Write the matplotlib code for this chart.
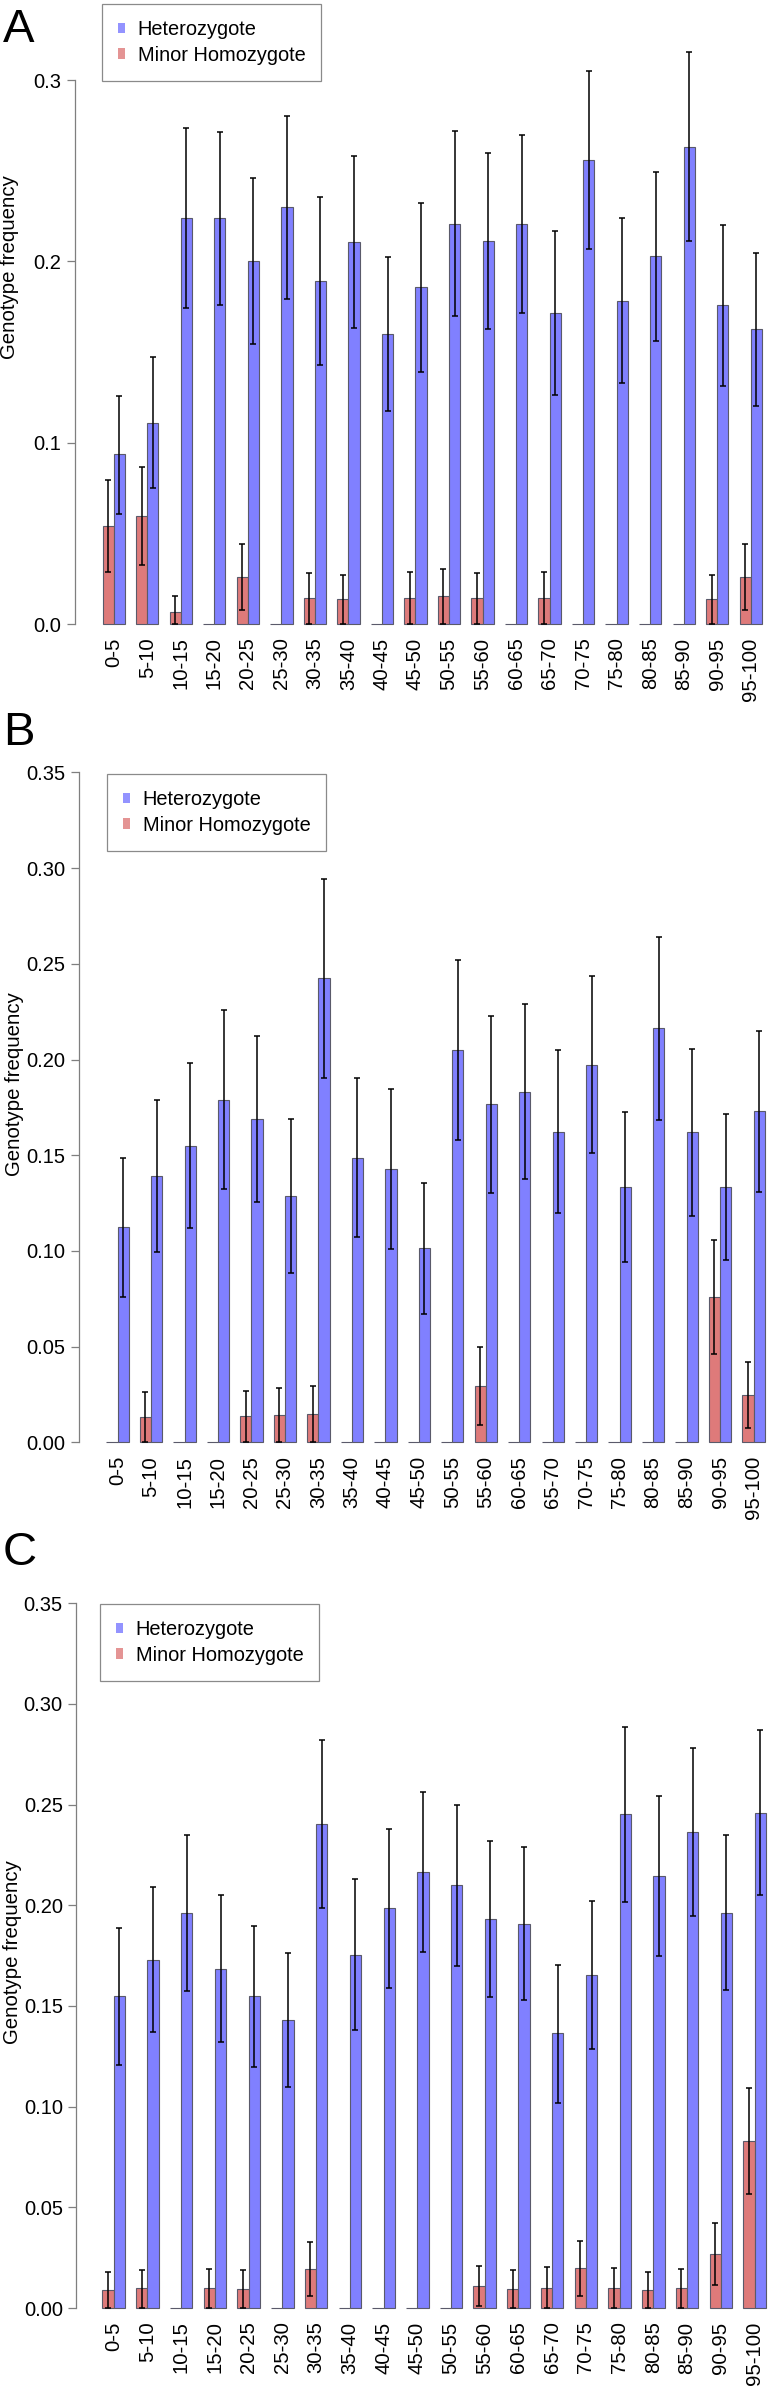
import numpy as np
import matplotlib
matplotlib.use('Agg')
import matplotlib.pyplot as plt
from matplotlib.patches import Patch

plt.rcParams['font.family'] = ['Liberation Sans', 'DejaVu Sans']

W, H = 769, 2387

cats = ['0-5', '5-10', '10-15', '15-20', '20-25', '25-30', '30-35', '35-40', '40-45', '45-50',
        '50-55', '55-60', '60-65', '65-70', '70-75', '75-80', '80-85', '85-90', '90-95', '95-100']

# panel A
A_het = [0.0936, 0.111, 0.2238, 0.2238, 0.2000, 0.2298, 0.1892, 0.2107, 0.1601, 0.1859,
         0.2208, 0.2114, 0.2208, 0.1715, 0.2561, 0.1782, 0.2028, 0.2633, 0.176, 0.1625]
A_het_hi = [0.1259, 0.1471, 0.2734, 0.2716, 0.2458, 0.2802, 0.2357, 0.2581, 0.2024, 0.2324,
            0.2718, 0.26, 0.2697, 0.2168, 0.3052, 0.2238, 0.2495, 0.3153, 0.2199, 0.2045]
A_het_lo = [0.0607, 0.0752, 0.1743, 0.1761, 0.1544, 0.1794, 0.1427, 0.1631, 0.1177, 0.1392,
            0.1697, 0.1629, 0.1717, 0.1263, 0.207, 0.1328, 0.1561, 0.2114, 0.1315, 0.1204]
A_hom = [0.0541, 0.0596, 0.0064, 0, 0.0259, 0, 0.0142, 0.0136, 0, 0.0143,
         0.0153, 0.0142, 0, 0.0143, 0, 0, 0, 0, 0.0136, 0.0259]
A_hom_hi = [0.0794, 0.0866, 0.0156, 0, 0.0441, 0, 0.0283, 0.027, 0, 0.0285,
            0.0302, 0.0283, 0, 0.0287, 0, 0, 0, 0, 0.027, 0.0441]
A_hom_lo = [0.0287, 0.0327, 0, 0, 0.0077, 0, 0, 0, 0, 0,
            0, 0, 0, 0, 0, 0, 0, 0, 0, 0.0077]

# panel B
B_het = [0.1126, 0.1393, 0.155, 0.179, 0.1689, 0.1287, 0.2424, 0.1487, 0.143, 0.1013,
         0.2051, 0.1766, 0.183, 0.1623, 0.1971, 0.1334, 0.2163, 0.162, 0.1334, 0.1729]
B_het_hi = [0.1487, 0.1788, 0.198, 0.2259, 0.2124, 0.1688, 0.2943, 0.1902, 0.1848, 0.1353,
            0.252, 0.2227, 0.2292, 0.205, 0.2436, 0.1727, 0.2642, 0.2056, 0.1717, 0.215]
B_het_lo = [0.0761, 0.0996, 0.1121, 0.1323, 0.1254, 0.0886, 0.1905, 0.1074, 0.101, 0.067,
            0.1581, 0.1304, 0.1374, 0.1196, 0.151, 0.094, 0.1682, 0.1184, 0.0951, 0.1309]
B_hom = [0, 0.0134, 0, 0, 0.0137, 0.0144, 0.0148, 0, 0, 0,
         0, 0.0296, 0, 0, 0, 0, 0, 0, 0.0761, 0.0247]
B_hom_hi = [0, 0.0263, 0, 0, 0.027, 0.0285, 0.0296, 0, 0, 0,
            0, 0.05, 0, 0, 0, 0, 0, 0, 0.1059, 0.0421]
B_hom_lo = [0, 0, 0, 0, 0, 0, 0, 0, 0, 0,
            0, 0.0089, 0, 0, 0, 0, 0, 0, 0.0461, 0.0073]

# panel C
C_het = [0.1549, 0.1729, 0.1963, 0.1685, 0.1549, 0.143, 0.2402, 0.1754, 0.1985, 0.2165,
         0.2099, 0.193, 0.1908, 0.1364, 0.1653, 0.2451, 0.2146, 0.2362, 0.1963, 0.2458]
C_het_hi = [0.1887, 0.2089, 0.235, 0.2052, 0.1897, 0.1764, 0.2819, 0.213, 0.2377, 0.2564,
            0.2496, 0.2317, 0.2289, 0.1703, 0.2019, 0.2886, 0.2542, 0.2779, 0.2349, 0.2868]
C_het_lo = [0.1208, 0.1372, 0.1576, 0.1319, 0.1198, 0.1099, 0.1985, 0.138, 0.159, 0.1766,
            0.17, 0.1543, 0.1528, 0.1019, 0.1286, 0.2016, 0.1749, 0.1945, 0.1579, 0.2049]
C_hom = [0.0089, 0.0098, 0, 0.0098, 0.0094, 0, 0.0192, 0, 0, 0,
         0, 0.0109, 0.0094, 0.0101, 0.0197, 0.0098, 0.0089, 0.0098, 0.0267, 0.0829]
C_hom_hi = [0.0177, 0.0189, 0, 0.0195, 0.0189, 0, 0.0326, 0, 0, 0,
            0, 0.0209, 0.0189, 0.0202, 0.0334, 0.0197, 0.018, 0.0195, 0.042, 0.1091]
C_hom_lo = [0, 0, 0, 0, 0, 0, 0.006, 0, 0, 0,
            0, 0.001, 0, 0, 0.006, 0, 0, 0, 0.0112, 0.0566]

BLUE = '#8080ff'
RED = '#de7a7a'
EDGE = '#5a5a6a'
AXC = '#7f7f7f'

fig = plt.figure(figsize=(W / 100, H / 100), dpi=100)


def fx(px):
    return px / W


def fy(py):
    return 1 - py / H


def panel(letter, het, het_lo, het_hi, hom, hom_lo, hom_hi, yticks, ylabels,
          axl, top, y0, k, c0, dx, leg, ylab_xy, letter_base):
    # axes box in pixels: left=axl, right=W, top=top, bottom=y0 (zero line)
    ax = fig.add_axes([fx(axl), fy(y0), fx(W - axl), (y0 - top) / H])
    ax.set_xlim((axl - c0) / dx, (W - c0) / dx)
    ax.set_ylim(0, (y0 - top) / k)
    x = np.arange(len(cats))
    w = 1 / 3
    het = np.array(het); hom = np.array(hom)
    ax.bar(x - w / 2, hom, w, color=RED, edgecolor=EDGE, linewidth=0.8, clip_on=False)
    ax.bar(x + w / 2, het, w, color=BLUE, edgecolor=EDGE, linewidth=0.8, clip_on=False)
    ax.errorbar(x + w / 2, het, yerr=[het - np.array(het_lo), np.array(het_hi) - het],
                fmt='none', ecolor='black', elinewidth=1.1, capsize=2.5, capthick=1.1)
    m = hom > 0
    ax.errorbar((x - w / 2)[m], hom[m],
                yerr=[(hom - np.array(hom_lo))[m], (np.array(hom_hi) - hom)[m]],
                fmt='none', ecolor='black', elinewidth=1.1, capsize=2.5, capthick=1.1)
    for s in ['top', 'right', 'bottom']:
        ax.spines[s].set_visible(False)
    ax.spines['left'].set_color(AXC)
    ax.spines['left'].set_linewidth(0.9)
    ax.spines['left'].set_bounds(yticks[0], yticks[-1])
    ax.set_yticks(yticks)
    ax.set_yticklabels(ylabels)
    ax.tick_params(axis='y', length=5.5, width=0.9, color=AXC, pad=4, labelsize=14.5)
    ax.set_xticks(x)
    ax.set_xticklabels(cats, rotation=90, va='top', ha='center')
    ax.tick_params(axis='x', length=0, pad=9.8, labelsize=14.6)
    ax.set_ylabel('Genotype frequency', fontsize=14.7)
    ax.yaxis.set_label_coords(fx(ylab_xy[0]), fy(ylab_xy[1]), transform=fig.transFigure)
    ax.yaxis.label.set_va('center')
    handles = [Patch(facecolor=BLUE, edgecolor='none', alpha=0.85, label='Heterozygote'),
               Patch(facecolor=RED, edgecolor='none', alpha=0.8, label='Minor Homozygote')]
    lg = ax.legend(handles=handles, loc='upper left', bbox_to_anchor=(fx(leg[0]), fy(leg[1])),
                   bbox_transform=fig.transFigure, borderaxespad=0, fontsize=14.4,
                   frameon=True, fancybox=False, edgecolor='#8a8a8a', framealpha=1,
                   handlelength=0.33, handleheight=0.45, handletextpad=0.65,
                   borderpad=0.8, labelspacing=0.33)
    lg.get_frame().set_linewidth(0.9)
    fig.text(fx(3), fy(letter_base), letter, fontsize=34, ha='left', va='baseline')
    return ax


panel('A', A_het, A_het_lo, A_het_hi, A_hom, A_hom_lo, A_hom_hi,
      [0, 0.1, 0.2, 0.3], ['0.0', '0.1', '0.2', '0.3'],
      axl=74.5, top=0, y0=624, k=1813, c0=113.7, dx=33.53,
      leg=(102, 4), ylab_xy=(10, 267), letter_base=42)

tk = [0, 0.05, 0.10, 0.15, 0.20, 0.25, 0.30, 0.35]
tl = ['0.00', '0.05', '0.10', '0.15', '0.20', '0.25', '0.30', '0.35']

panel('B', B_het, B_het_lo, B_het_hi, B_hom, B_hom_lo, B_hom_hi, tk, tl,
      axl=78.5, top=760, y0=1442.3, k=1914, c0=117.6, dx=33.47,
      leg=(107, 774), ylab_xy=(15, 1084), letter_base=745)

panel('C', C_het, C_het_lo, C_het_hi, C_hom, C_hom_lo, C_hom_hi, tk, tl,
      axl=76, top=1590, y0=2308, k=2014, c0=113.7, dx=33.73,
      leg=(100, 1604), ylab_xy=(13, 1952), letter_base=1565)

fig.savefig('out.png', dpi=100)
